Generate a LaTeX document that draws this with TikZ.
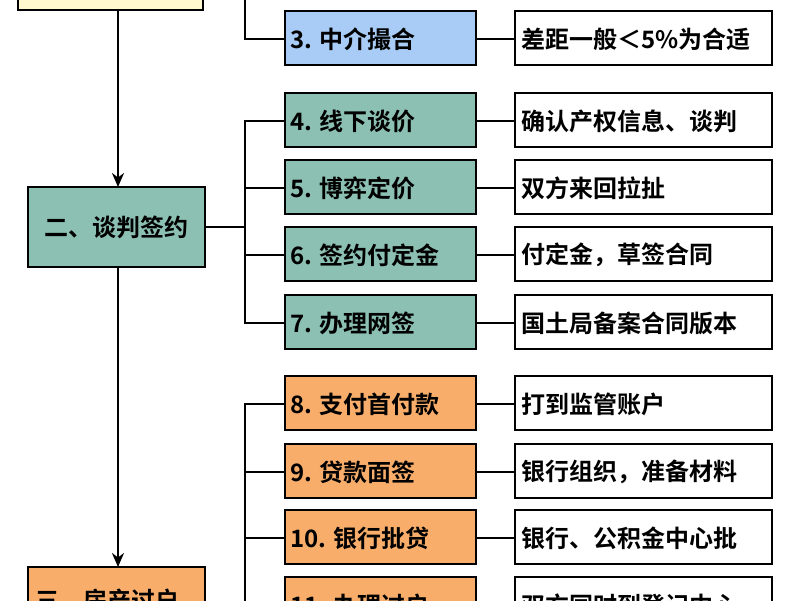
\documentclass[tikz,border=0pt]{standalone}
\usetikzlibrary{arrows.meta}
\usepackage{fontspec}
\setmainfont{Noto Sans CJK SC}[BoldFont={* Bold}]
\definecolor{cyel}{HTML}{FFF8CF}
\definecolor{cblu}{HTML}{A8CCF5}
\definecolor{ctea}{HTML}{8CC0B2}
\definecolor{cora}{HTML}{F8AE6A}
\begin{document}
\begin{tikzpicture}[x=1pt,y=-1pt,line width=2.4pt,
  bx/.style={draw=black,line width=2.6pt},
  tx/.style={anchor=west,inner sep=0pt,font=\fontsize{24}{24}\selectfont\bfseries},
  yel/.style={bx,fill=cyel},blu/.style={bx,fill=cblu},
  tea/.style={bx,fill=ctea},ora/.style={bx,fill=cora},wh/.style={bx,fill=white}]
\useasboundingbox (0,0) rectangle (800,600);
\clip (0,0) rectangle (800,600);
\fill[white] (0,0) rectangle (800,600);
% left column
\draw[yel] (18,-60) rectangle (203,10);
\draw[tea] (28,187) rectangle (205,267) node[pos=.5,font=\fontsize{24}{24}\selectfont\bfseries] (L2) {二、谈判签约};
\draw[ora] (28,567) rectangle (205,660);
\node[tx] (L3) at (34,600) {三、房产过户};
\coordinate (a1) at (118,10); \coordinate (a2) at (118,187);
\coordinate (a3) at (118,267); \coordinate (a4) at (118,567);
\draw[-{Stealth[length=14pt,width=12pt]}] (a1) -- (a2);
\draw[-{Stealth[length=14pt,width=12pt]}] (a3) -- (a4);
% rows
\foreach \n/\y/\st/\a/\b in {
 3/11/blu/{3. 中介撮合}/{差距一般＜5\%为合适},
 4/93/tea/{4. 线下谈价}/{确认产权信息、谈判},
 5/160/tea/{5. 博弈定价}/{双方来回拉扯},
 6/227/tea/{6. 签约付定金}/{付定金，草签合同},
 7/295/tea/{7. 办理网签}/{国土局备案合同版本},
 8/376/ora/{8. 支付首付款}/{打到监管账户},
 9/444/ora/{9. 贷款面签}/{银行组织，准备材料},
 10/510/ora/{10. 银行批贷}/{银行、公积金中心批},
 11/577/ora/{11. 办理过户}/{双方同时到登记中心}}{
  \draw[\st] (285,\y) rectangle (476,\y+54);
  \node[tx] (m\n) at (289,\y+28) {\a};
  \draw[wh] (515,\y) rectangle (772,\y+54);
  \node[tx] (r\n) at (520,\y+28) {\b};
  \coordinate (ml\n) at (285,\y+28); \coordinate (mr\n) at (476,\y+28);
  \coordinate (rl\n) at (515,\y+28);
  \draw (mr\n) -- (rl\n);
}
% brackets
\coordinate (t0) at (245,-10);
\draw (t0) |- (ml3);
\coordinate (b2) at (205,227); \coordinate (v2) at (245,227);
\draw (b2) -- (v2);
\draw (ml4) -| (245,255) |- (ml7);
\draw (v2) |- (ml5); \draw (v2) |- (ml6);
\draw (ml8) -| (245,620);
\draw (245,472) -- (ml9); \draw (245,538) -- (ml10); \draw (245,605) -- (ml11);
\end{tikzpicture}
\end{document}
